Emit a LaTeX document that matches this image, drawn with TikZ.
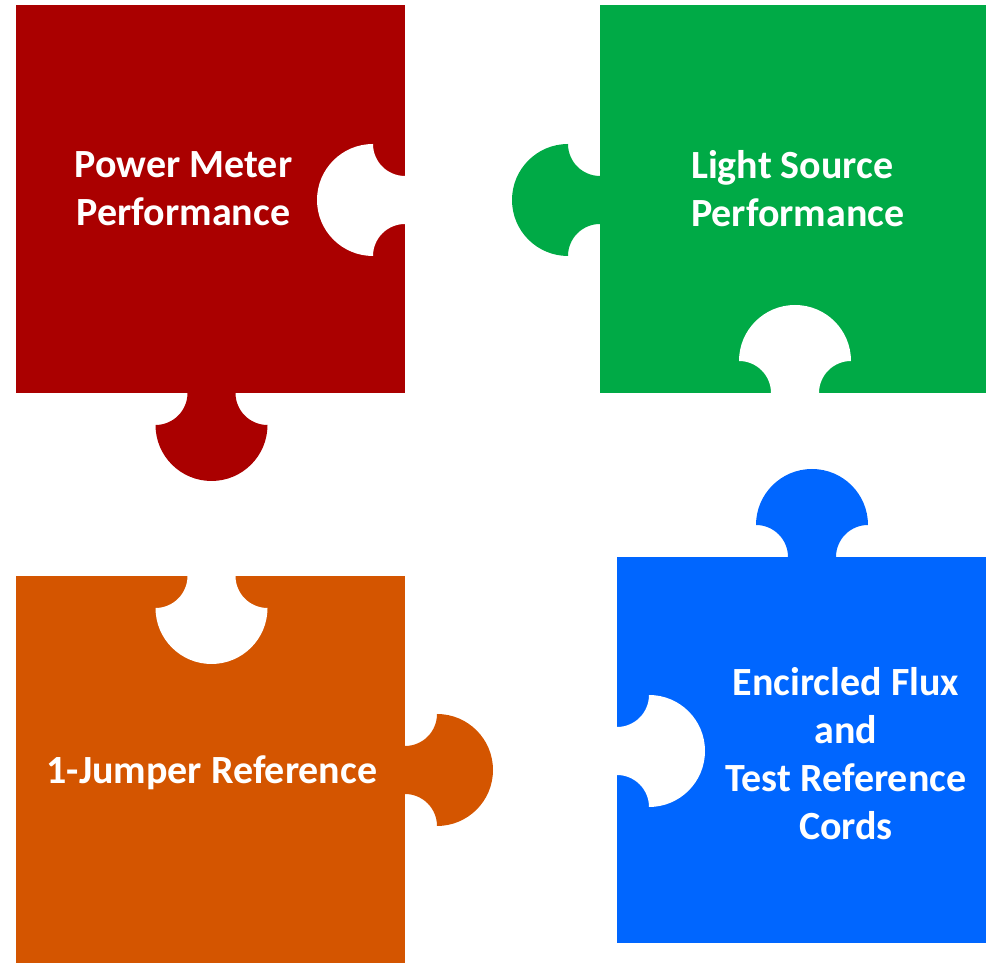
\documentclass[tikz,border=0pt]{standalone}
\usepackage{fontspec}
\setmainfont{Carlito}
\definecolor{pzred}{RGB}{170,0,0}
\definecolor{pzgreen}{RGB}{0,170,70}
\definecolor{pzorange}{RGB}{212,85,0}
\definecolor{pzblue}{RGB}{0,102,255}
% knob geometry: head radius and neck depth
\newcommand\knobR{56}
\newcommand\knobD{32}
% #1 fill colour, #2 point on the edge, #3 rotation (local +y points away from the edge)
\newcommand\puzzleknob[3]{%
  \fill[#1, shift={#2}, rotate=#3]
    (-\knobR+\knobD,-2) -- (-\knobR+\knobD,0)
    arc[start angle=0, end angle=90, radius=\knobD pt]
    arc[start angle=180, end angle=0, radius=\knobR pt]
    arc[start angle=90, end angle=180, radius=\knobD pt]
    -- (\knobR-\knobD,-2) -- cycle;}
\tikzset{
  label/.style={text=white, font=\bfseries\fontsize{40}{48}\selectfont, inner sep=0pt}
}
\begin{document}
\begin{tikzpicture}[x=1pt, y=1pt]
\useasboundingbox (0,0) rectangle (986,963);
% pieces
\fill[pzred] (16,570) rectangle (405,958);
\fill[pzgreen] (600,570) rectangle (986,958);
\fill[pzorange] (16,0) rectangle (405,387);
\fill[pzblue] (617,20) rectangle (986,406);
% tabs
\puzzleknob{pzred}{(211.5,570)}{180}
\puzzleknob{pzgreen}{(600,763)}{90}
\puzzleknob{pzorange}{(405,193)}{-90}
\puzzleknob{pzblue}{(812,406)}{0}
% sockets
\puzzleknob{white}{(405,763)}{90}
\puzzleknob{white}{(795,570)}{0}
\puzzleknob{white}{(211.5,387)}{180}
\puzzleknob{white}{(617,212)}{-90}
% labels
\node[label, align=center] (pm) at (183.5,774) {Power Meter\\Performance};
\node[label, align=left, anchor=west] (ls) at (691,774) {Light Source\\Performance};
\node[label, align=center] (jr) at (212,190) {1-Jumper Reference};
\node[label, align=center] (ef) at (846,209.5) {Encircled Flux\\and\\Test Reference\\Cords};
\end{tikzpicture}
\end{document}
